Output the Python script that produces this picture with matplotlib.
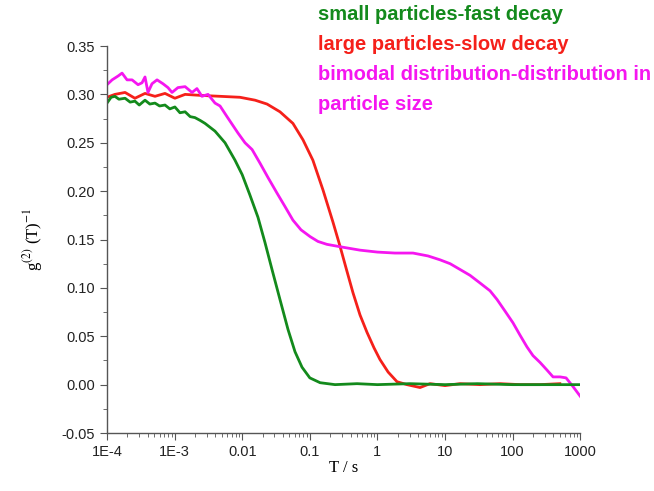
import numpy as np
import matplotlib
matplotlib.use('Agg')
import matplotlib.pyplot as plt
from matplotlib.ticker import FixedLocator, MultipleLocator, LogLocator, NullFormatter

plt.rcParams['font.family'] = ['Liberation Sans', 'DejaVu Sans']
plt.rcParams['mathtext.fontset'] = 'stix'

# small particles - fast decay
t_small = [1.0e-4, 1.15e-4, 1.31e-4, 1.5e-4, 1.85e-4, 2.2e-4, 2.59e-4, 3.0e-4, 3.65e-4,
           4.3e-4, 5.13e-4, 6.0e-4, 7.21e-4, 8.5e-4, 1.01e-3, 1.2e-3, 1.43e-3, 1.7e-3,
           2.0e-3, 2.4e-3, 2.82e-3, 3.96e-3, 5.57e-3, 7.82e-3, 0.0100, 0.0130, 0.0171,
           0.0217, 0.0276, 0.0362, 0.0476, 0.0604, 0.0767, 0.100, 0.142, 0.236, 0.5,
           1, 3, 10, 30, 100, 300, 1000]
g_small = [0.291, 0.297, 0.298, 0.295, 0.296, 0.292, 0.293, 0.289, 0.294,
           0.290, 0.291, 0.288, 0.289, 0.285, 0.287, 0.281, 0.282, 0.277,
           0.276, 0.273, 0.270, 0.262, 0.250, 0.232, 0.217, 0.196, 0.173,
           0.147, 0.119, 0.088, 0.057, 0.034, 0.018, 0.007, 0.002, 0.000, 0.001,
           0.000, 0.001, 0.000, 0.001, 0.000, 0.000, 0.000]

# large particles - slow decay
t_large = [1.0e-4, 1.31e-4, 1.85e-4, 2.59e-4, 3.65e-4, 5.13e-4, 7.21e-4, 1.01e-3, 1.43e-3,
           2.38e-3, 4.70e-3, 9.27e-3, 0.0155, 0.0233, 0.0362, 0.0563, 0.0793, 0.111,
           0.157, 0.220, 0.280, 0.355, 0.435, 0.553, 0.702, 0.891, 1.09, 1.44, 1.95,
           2.74, 4.27, 6.0, 10, 16.7, 33, 65, 129, 254, 500]
g_large = [0.297, 0.300, 0.302, 0.296, 0.301, 0.298, 0.301, 0.296, 0.300,
           0.299, 0.298, 0.297, 0.294, 0.290, 0.282, 0.270, 0.253, 0.232,
           0.201, 0.168, 0.143, 0.117, 0.095, 0.072, 0.054, 0.038, 0.026, 0.013, 0.003,
           0.000, -0.003, 0.001, -0.001, 0.001, 0.000, 0.001, 0.000, 0.000, 0.001]

# bimodal distribution
t_bimodal = [1.0e-4, 1.19e-4, 1.46e-4, 1.67e-4, 1.98e-4, 2.35e-4, 2.88e-4, 3.30e-4, 3.65e-4,
             4.04e-4, 4.63e-4, 5.50e-4, 6.73e-4, 7.98e-4, 9.16e-4, 1.12e-3, 1.43e-3, 1.81e-3,
             2.14e-3, 2.54e-3, 3.12e-3, 3.96e-3, 4.70e-3, 5.96e-3, 8.67e-3, 0.0110, 0.0140,
             0.0183, 0.0241, 0.0327, 0.0430, 0.0563, 0.0741, 0.101, 0.132, 0.179, 0.310,
             0.553, 1.0, 1.82, 3.36, 5.61, 8.44, 11.9, 16.7, 23.4, 33.0, 46.3, 58.8, 77.2,
             101, 129, 163, 200, 254, 323, 396, 503, 617, 782, 1000]
g_bimodal = [0.310, 0.315, 0.319, 0.322, 0.315, 0.315, 0.310, 0.312, 0.318,
             0.302, 0.311, 0.315, 0.311, 0.307, 0.302, 0.307, 0.308, 0.302,
             0.306, 0.298, 0.300, 0.291, 0.288, 0.277, 0.260, 0.250, 0.243,
             0.229, 0.214, 0.198, 0.184, 0.170, 0.160, 0.153, 0.148, 0.145, 0.142,
             0.139, 0.137, 0.136, 0.136, 0.133, 0.129, 0.125, 0.119, 0.113, 0.105, 0.097, 0.088, 0.076,
             0.064, 0.051, 0.039, 0.030, 0.023, 0.015, 0.008, 0.008, 0.007, -0.002, -0.012]

x_ticks = [1e-4, 1e-3, 1e-2, 1e-1, 1, 10, 100, 1000]
x_labels = ['1E-4', '1E-3', '0.01', '0.1', '1', '10', '100', '1000']

green = '#138a1c'
red = '#f5201a'
magenta = '#f516f0'

fig = plt.figure(figsize=(6.54, 4.91), dpi=100)
ax = fig.add_axes([0.1636, 0.1181, 0.7236, 0.7882])

ax.plot(t_large, g_large, color=red, lw=2)
ax.plot(t_bimodal, g_bimodal, color=magenta, lw=2)
ax.plot(t_small, g_small, color=green, lw=2)

ax.set_xscale('log')
ax.set_xlim(1e-4, 1000)
ax.set_ylim(-0.05, 0.35)
ax.xaxis.set_major_locator(FixedLocator(x_ticks))
ax.set_xticklabels(x_labels)
ax.xaxis.set_minor_locator(LogLocator(base=10, subs=np.arange(2, 10)))
ax.xaxis.set_minor_formatter(NullFormatter())
ax.yaxis.set_major_locator(MultipleLocator(0.05))
ax.yaxis.set_minor_locator(MultipleLocator(0.025))
ax.yaxis.set_major_formatter(plt.FormatStrFormatter('%.2f'))

for s in ['top', 'right']:
    ax.spines[s].set_visible(False)
for s in ['left', 'bottom']:
    ax.spines[s].set_color('#555555')
    ax.spines[s].set_linewidth(1.0)
ax.tick_params(which='major', direction='out', length=5, color='#555555', labelsize=10.5, labelcolor='#222222')
ax.tick_params(which='minor', direction='out', length=3, color='#555555')

ax.set_xlabel('T / s', family='Liberation Serif', fontsize=12, labelpad=1)
ax.set_ylabel(r'g$^{(2)}$ (T)$^{-1}$', family='Liberation Serif', fontsize=12, labelpad=12)

fig.text(318 / 654, 1 - 15 / 491, 'small particles-fast decay', color=green,
         fontsize=14.5, fontweight='bold', va='center')
fig.text(318 / 654, 1 - 45 / 491, 'large particles-slow decay', color=red,
         fontsize=14.5, fontweight='bold', va='center')
fig.text(318 / 654, 1 - 74 / 491, 'bimodal distribution-distribution in', color=magenta,
         fontsize=14.5, fontweight='bold', va='center')
fig.text(318 / 654, 1 - 104 / 491, 'particle size', color=magenta,
         fontsize=14.5, fontweight='bold', va='center')

fig.savefig('out.png', dpi=100)
